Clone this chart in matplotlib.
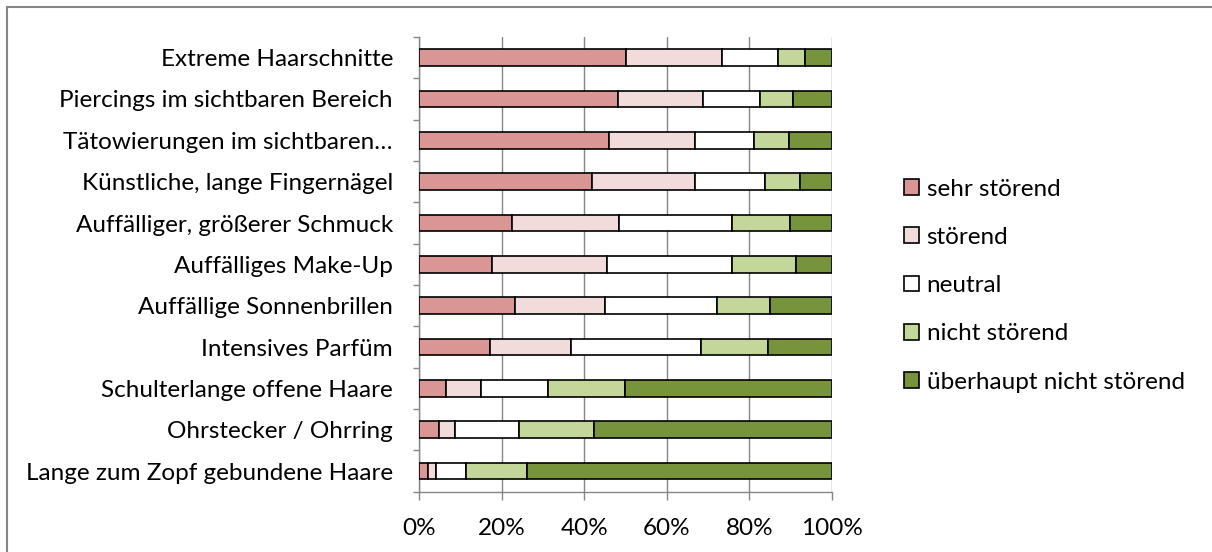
import matplotlib.pyplot as plt
from matplotlib.patches import Patch, Rectangle
from matplotlib.ticker import FixedLocator, PercentFormatter

plt.rcParams['font.family'] = ['Lato', 'DejaVu Sans']

categories = ['Extreme Haarschnitte',
              'Piercings im sichtbaren Bereich',
              'Tätowierungen im sichtbaren…',
              'Künstliche, lange Fingernägel',
              'Auffälliger, größerer Schmuck',
              'Auffälliges Make-Up',
              'Auffällige Sonnenbrillen',
              'Intensives Parfüm',
              'Schulterlange offene Haare',
              'Ohrstecker / Ohrring',
              'Lange zum Zopf gebundene Haare']

series_names = ['sehr störend', 'störend', 'neutral', 'nicht störend',
                'überhaupt nicht störend']

sehr_stoerend = [50.2, 48.1, 46.0, 41.9, 22.4, 17.7, 23.1, 17.2, 6.5, 4.8, 2.1]
stoerend = [23.1, 20.6, 20.9, 24.9, 25.9, 27.9, 22.0, 19.6, 8.4, 3.9, 2.0]
neutral = [13.6, 14.0, 14.3, 17.1, 27.4, 30.1, 27.0, 31.5, 16.3, 15.5, 7.2]
nicht_stoerend = [6.5, 7.9, 8.4, 8.3, 14.2, 15.6, 13.0, 16.3, 18.6, 18.1, 14.8]
ueberhaupt_nicht = [6.6, 9.4, 10.4, 7.8, 10.1, 8.7, 14.9, 15.4, 50.2, 57.7, 73.9]

colors = ['#DA9694', '#F2DCDB', '#FFFFFF', '#C4D79B', '#77933C']

fig = plt.figure(figsize=(12.12, 5.52), dpi=100)
ax = fig.add_axes([0.346, 0.1092, 0.3403, 0.8238])

y = list(range(len(categories)))
left = [0.0] * len(categories)
for vals, col, name in zip([sehr_stoerend, stoerend, neutral, nicht_stoerend, ueberhaupt_nicht],
                           colors, series_names):
    ax.barh(y, vals, left=left, height=0.4, color=col, edgecolor='black',
            linewidth=1.2, label=name, zorder=3)
    left = [a + b for a, b in zip(left, vals)]

ax.set_xlim(0, 100)
ax.set_ylim(len(categories) - 0.5, -0.5)
ax.set_xticks([0, 20, 40, 60, 80, 100])
ax.xaxis.set_major_formatter(PercentFormatter(decimals=0))
ax.set_yticks(y)
ax.set_yticklabels(categories)
ax.yaxis.set_minor_locator(FixedLocator([i - 0.5 for i in range(len(categories) + 1)]))

ax.grid(axis='x', color='#868686', linewidth=1.0, zorder=0)
ax.set_axisbelow(True)
for s in ['top', 'right']:
    ax.spines[s].set_visible(False)
for s in ['left', 'bottom']:
    ax.spines[s].set_color('#868686')
    ax.spines[s].set_linewidth(1.0)

ax.tick_params(axis='x', direction='out', length=5.5, width=1.0, color='#868686',
               labelsize=17.5, pad=13.5)
ax.tick_params(axis='y', which='major', length=0, labelsize=17.5, pad=19)
ax.tick_params(axis='y', which='minor', direction='out', length=4, width=1.0,
               color='#868686')

legend_elements = [Patch(facecolor=c, edgecolor='black', linewidth=1.2, label=n)
                   for c, n in zip(colors, series_names)]
fig.legend(handles=legend_elements, loc='upper left', bbox_to_anchor=(0.738, 0.694),
           frameon=False, fontsize=17.5, handlelength=0.62, handleheight=0.62,
           handletextpad=0.3, labelspacing=1.12, borderaxespad=0)

# outer chart border (cropped on the right and bottom)
fig.patches.append(Rectangle((7 / 1212, -0.1), 1.2, 1 - 7 / 552 + 0.1,
                             transform=fig.transFigure, fill=False,
                             edgecolor='#868686', linewidth=1.5))

fig.savefig('out.png', dpi=100)
